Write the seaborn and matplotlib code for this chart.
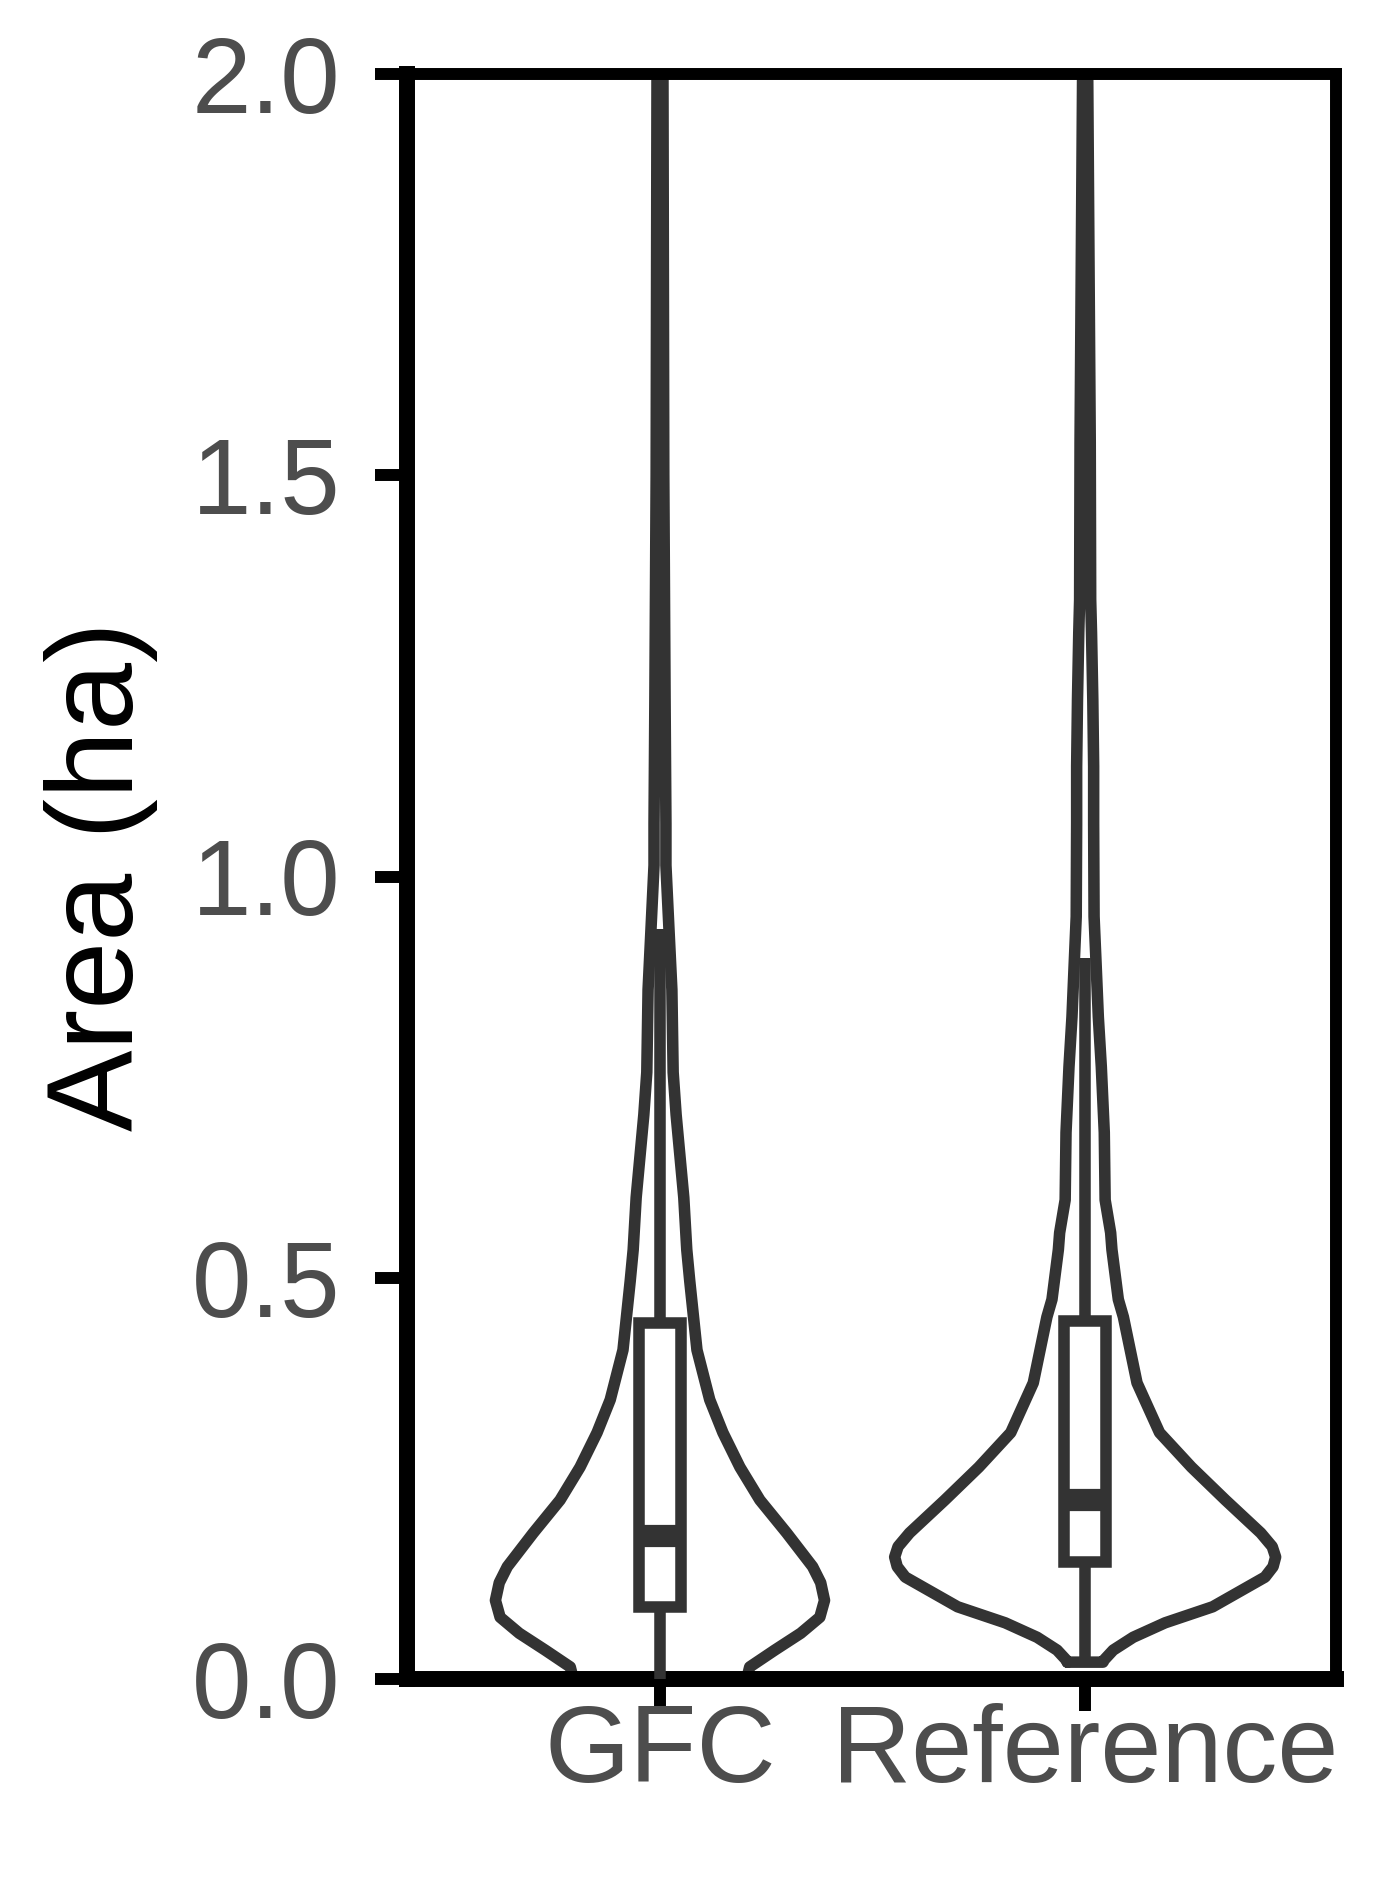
import numpy as np
import pandas as pd
import matplotlib
matplotlib.use("Agg")
import matplotlib.pyplot as plt
import seaborn as sns

# ---------------- data ----------------
categories = ["GFC", "Reference"]

# five-number summaries: min, Q1, median, Q3, upper whisker (ha)
gfc_box = [0.0, 0.090, 0.178, 0.444, 0.935]
ref_box = [0.021, 0.146, 0.223, 0.446, 0.898]

# violin density profiles: area level (ha) and half-width (fraction of category spacing)
gfc_levels = [0.000, 0.015, 0.036, 0.057, 0.077, 0.098, 0.120, 0.140, 0.182, 0.223,
              0.264, 0.307, 0.348, 0.410, 0.496, 0.535, 0.600, 0.703, 0.756, 0.859,
              0.936, 1.014, 1.066, 1.221, 1.500, 2.000]
gfc_halfwidth = [0.204, 0.211, 0.270, 0.331, 0.376, 0.387, 0.378, 0.359, 0.298, 0.235,
                 0.188, 0.148, 0.117, 0.087, 0.070, 0.063, 0.056, 0.038, 0.031, 0.028,
                 0.021, 0.014, 0.014, 0.012, 0.009, 0.007]

ref_levels = [0.021, 0.024, 0.036, 0.052, 0.070, 0.090, 0.127, 0.140, 0.152, 0.165,
              0.182, 0.223, 0.264, 0.307, 0.369, 0.451, 0.473, 0.535, 0.556, 0.597,
              0.681, 0.763, 0.825, 0.888, 0.950, 1.066, 1.137, 1.221, 1.304, 1.345,
              1.541, 2.000]
ref_halfwidth = [0.042, 0.045, 0.066, 0.113, 0.188, 0.300, 0.423, 0.442, 0.448, 0.440,
                 0.413, 0.330, 0.250, 0.175, 0.122, 0.090, 0.078, 0.063, 0.060, 0.047,
                 0.045, 0.038, 0.031, 0.026, 0.021, 0.020, 0.020, 0.018, 0.015, 0.013,
                 0.012, 0.006]

y_ticks = [0.0, 0.5, 1.0, 1.5, 2.0]
y_tick_labels = ["0.0", "0.5", "1.0", "1.5", "2.0"]
y_label = "Area (ha)"

# ---------------- style ----------------
sns.set_theme(style="ticks")
plt.rcParams["font.family"] = ["Liberation Sans", "DejaVu Sans"]

W, H = 1382, 1877
fig = plt.figure(figsize=(W / 100, H / 100), dpi=100)
fig.patch.set_facecolor("white")
ax = fig.add_axes([407 / W, 1 - 1679 / H, (1336 - 407) / W, (1679 - 74) / H])
ax.set_facecolor("white")

line_col = "#333333"
lw = 8.3

# ---------------- violins ----------------
profiles = {"GFC": (gfc_levels, gfc_halfwidth), "Reference": (ref_levels, ref_halfwidth)}
for i, cat in enumerate(categories):
    lev, hw = profiles[cat]
    lev = np.asarray(lev, dtype=float)
    hw = np.asarray(hw, dtype=float)
    xs = np.concatenate([i - hw, (i + hw)[::-1], [i - hw[0]]])
    ys = np.concatenate([lev, lev[::-1], [lev[0]]])
    sns.lineplot(x=xs, y=ys, sort=False, estimator=None, color=line_col,
                 linewidth=lw, ax=ax, zorder=2,
                 solid_joinstyle="round", solid_capstyle="round")

# ---------------- boxes ----------------
box_df = pd.DataFrame({"source": np.repeat(categories, 5),
                       "area": gfc_box + ref_box})
box_df["pos"] = box_df["source"].map({c: i for i, c in enumerate(categories)})
sns.boxplot(data=box_df, x="pos", y="area", native_scale=True, orient="x",
            whis=(0, 100), width=0.1, color="white", saturation=1,
            linecolor=line_col, linewidth=lw, showfliers=False,
            medianprops=dict(linewidth=16, color=line_col, solid_capstyle="butt"),
            capprops=dict(visible=False), zorder=3, ax=ax)

# ---------------- axes ----------------
ax.set_xlim(-0.595, 1.59)
ax.set_ylim(0, 2)
ax.set_xticks(range(len(categories)))
ax.set_xticklabels(categories)
ax.set_yticks(y_ticks)
ax.set_yticklabels(y_tick_labels)
ax.set_xlabel("")
ax.set_ylabel(y_label, fontsize=88, color="black", labelpad=24)

ax.tick_params(axis="both", labelcolor="#4D4D4D", color="black",
               width=8.6, length=23, direction="out", left=True, bottom=True)
ax.tick_params(axis="y", labelsize=77, pad=25)
ax.tick_params(axis="x", labelsize=79, pad=-6)

for name, sp in ax.spines.items():
    sp.set_visible(True)
    sp.set_color("black")
    sp.set_linewidth(11.5 if name in ("left", "bottom") else 8.6)

fig.savefig("out.png", dpi=100, facecolor="white")
